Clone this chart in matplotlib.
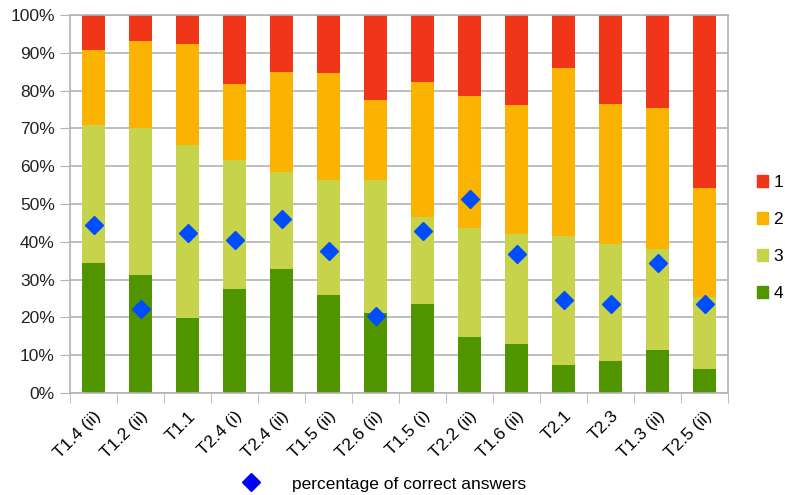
import numpy as np
import matplotlib.pyplot as plt
from matplotlib.lines import Line2D
from matplotlib.patches import Patch

plt.rcParams['font.family'] = ['Liberation Sans', 'DejaVu Sans']

## Data (percent of answers per rating, stacked bottom-up 4,3,2,1)
labels = ["T1.4 (ii)", "T1.2 (ii)", "T1.1", "T2.4 (i)", "T2.4 (ii)", "T1.5 (ii)", "T2.6 (ii)",
          "T1.5 (i)", "T2.2 (ii)", "T1.6 (ii)", "T2.1", "T2.3", "T1.3 (ii)", "T2.5 (ii)"]
r4 = [34.3, 31.2, 19.8, 27.4, 32.7, 25.9, 21.1, 23.5, 14.7, 12.9, 7.3, 8.4, 11.3, 6.3]
r3 = [36.6, 39.0, 45.8, 34.2, 25.7, 30.4, 35.2, 23.0, 28.9, 29.1, 34.2, 31.0, 26.7, 19.0]
r2 = [19.8, 22.9, 26.7, 20.1, 26.5, 28.3, 21.2, 35.8, 35.0, 34.2, 44.5, 37.0, 37.4, 28.9]
r1 = [9.3, 6.9, 7.7, 18.3, 15.1, 15.4, 22.5, 17.7, 21.4, 23.8, 14.0, 23.6, 24.6, 45.8]
correct = [44.4, 22.2, 42.2, 40.6, 45.9, 37.5, 20.3, 42.9, 51.2, 36.7, 24.5, 23.5, 34.4, 23.5]

colors = {"1": "#f03518", "2": "#f9b300", "3": "#c7d34b", "4": "#509400"}

fig = plt.figure(figsize=(7.85, 4.95), dpi=100)
ax = fig.add_axes([70/785, 102/495, 658/785, 378/495])

x = np.arange(len(labels))
w = 0.51
b = np.zeros(len(labels))
for key, vals in [("4", r4), ("3", r3), ("2", r2), ("1", r1)]:
    ax.bar(x, vals, w, bottom=b, color=colors[key], zorder=2)
    b = b + np.array(vals)

ax.plot(x, correct, linestyle="none", marker="D", markersize=9.5,
        color="#004cff", markeredgecolor="#004cff", zorder=3)

ax.set_xlim(-0.5, len(labels) - 0.5)
ax.set_ylim(0, 100)
ax.set_yticks(np.arange(0, 101, 10))
ax.set_yticklabels(["%d%%" % v for v in range(0, 101, 10)], fontsize=12.5, color="#222222")
ax.tick_params(axis="y", length=7, color="#b3b3b3", pad=4)
ax.grid(axis="y", color="#b3b3b3", linewidth=1.2, zorder=0)

ax.set_xticks(x)
ax.set_xticklabels(labels, rotation=45, ha="right", rotation_mode="anchor", fontsize=12.5)
ax.tick_params(axis="x", which="major", length=0, pad=11)
ax.set_xticks(np.arange(-0.5, len(labels), 1), minor=True)
ax.tick_params(axis="x", which="minor", length=7, color="#b3b3b3")

for s in ax.spines.values():
    s.set_color("#b3b3b3")
    s.set_linewidth(1.2)

# right legend (ratings)
handles = [Patch(color=colors[k], label=k) for k in ["1", "2", "3", "4"]]
fig.legend(handles=handles, loc="center left", bbox_to_anchor=(757/785, 1 - 238/495),
           frameon=False, fontsize=12.5, handlelength=0.65, handleheight=0.65,
           handletextpad=0.28, labelspacing=1.26, borderpad=0, borderaxespad=0)

# bottom legend (diamond)
fig.legend(handles=[Line2D([], [], linestyle="none", marker="D", markersize=9.5,
                           color="#0000ff", label="percentage of correct answers")],
           loc="center left", bbox_to_anchor=(218/785, 1 - 484/495), frameon=False,
           fontsize=12.5, handletextpad=1.35)

fig.savefig("out.png", dpi=100)
